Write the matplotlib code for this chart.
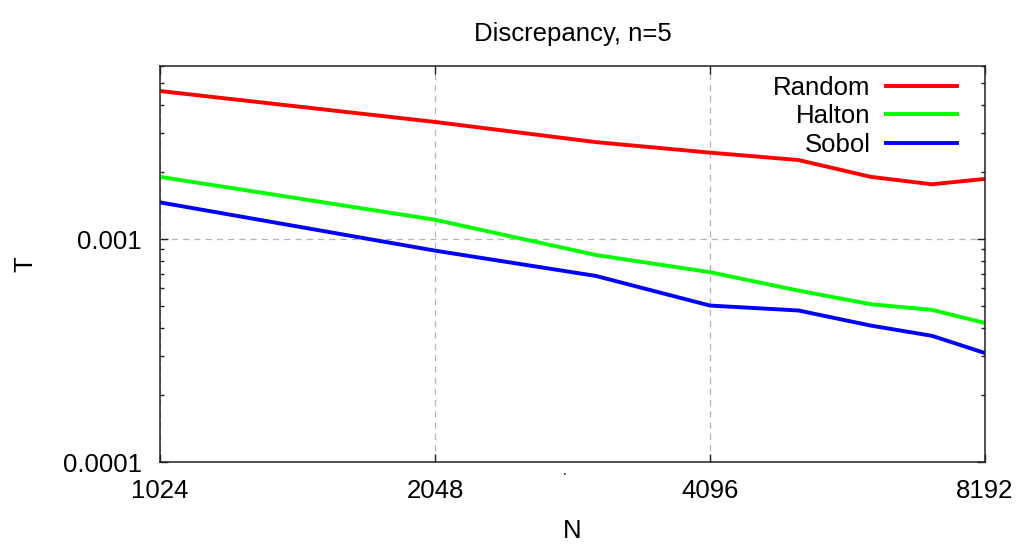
import matplotlib
matplotlib.use("Agg")
import matplotlib.pyplot as plt
from matplotlib.ticker import FixedLocator, LogLocator, NullFormatter, NullLocator

plt.rcParams["font.family"] = ["Liberation Sans", "DejaVu Sans"]

# sample sizes and discrepancy per generator
n_points = [1024, 2048, 3072, 4096, 5120, 6144, 7168, 8192]
random_t = [0.00461, 0.00335, 0.00272, 0.00244, 0.00226, 0.00190, 0.00176, 0.00186]
halton_t = [0.00190, 0.00122, 0.000848, 0.000710, 0.000587, 0.000510, 0.000481, 0.000420]
sobol_t = [0.00146, 0.000887, 0.000683, 0.000503, 0.000478, 0.000409, 0.000368, 0.000308]

x_ticks = [1024, 2048, 4096, 8192]
y_ticks = [0.0001, 0.001]
y_tick_labels = ["0.0001", "0.001"]

FS = 18.5

fig = plt.figure(figsize=(10.23, 5.45), dpi=100)
ax = fig.add_axes([160 / 1023, 1 - 462 / 545, 825 / 1023, (462 - 65.5) / 545])

ax.plot(n_points, random_t, color="#ff0000", lw=2.8, label="Random")
ax.plot(n_points, halton_t, color="#00ff00", lw=2.8, label="Halton")
ax.plot(n_points, sobol_t, color="#0000ff", lw=2.8, label="Sobol")

ax.set_xscale("log", base=2)
ax.set_yscale("log")
ax.set_xlim(1024, 8192)
ax.set_ylim(0.0001, 0.006)

ax.xaxis.set_major_locator(FixedLocator(x_ticks))
ax.set_xticklabels([str(v) for v in x_ticks])
ax.xaxis.set_minor_locator(NullLocator())
ax.yaxis.set_major_locator(FixedLocator(y_ticks))
ax.set_yticklabels(y_tick_labels)
ax.yaxis.set_minor_locator(LogLocator(base=10, subs=range(2, 10), numticks=20))
ax.yaxis.set_minor_formatter(NullFormatter())

ax.tick_params(which="both", direction="in", top=True, right=True,
               labelsize=FS, color="#222222", width=1.0)
ax.tick_params(which="major", length=5.5)
ax.tick_params(which="minor", length=3)
ax.tick_params(axis="x", which="major", pad=12)
ax.tick_params(axis="y", which="major", pad=13)

for sp in ax.spines.values():
    sp.set_color("#222222")
    sp.set_linewidth(1.1)

ax.grid(True, which="major", color="#b4b4b4", linestyle=(0, (5, 4)), linewidth=0.9)

ax.set_title("Discrepancy, n=5", fontsize=FS, pad=18)
ax.set_xlabel("N", fontsize=FS, va="center")
ax.set_ylabel("T", fontsize=FS, va="center")
ax.xaxis.set_label_coords(0.5, -0.175)
ax.yaxis.set_label_coords((25 - 160) / 825, 0.5)

ax.legend(loc="upper right", bbox_to_anchor=(957 / 1023, 1 - 76 / 545),
          bbox_transform=fig.transFigure, frameon=False, markerfirst=False,
          fontsize=FS, handlelength=2.75, handletextpad=0.62,
          labelspacing=0.17, borderpad=0, borderaxespad=0)

fig.text(565 / 1023, 1 - 471 / 545, ".", fontsize=10, ha="center", va="center")

fig.savefig("out.png", dpi=100, facecolor="white")
